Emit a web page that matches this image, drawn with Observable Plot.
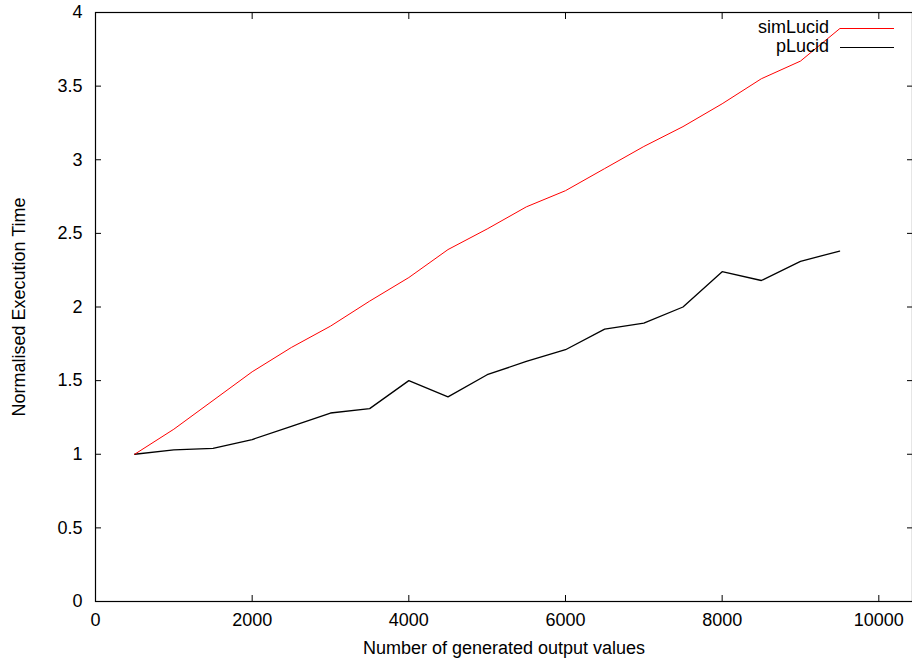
<!DOCTYPE html>
<html>
<head>
<meta charset="utf-8">
<script src="https://cdn.jsdelivr.net/npm/d3@7"></script>
<script src="https://cdn.jsdelivr.net/npm/@observablehq/plot@0.6"></script>
<style>
  html, body { margin: 0; padding: 0; background: #fff; }
  #wrap { position: relative; width: 912px; height: 660px; font-family: "Liberation Sans", Arial, Helvetica, sans-serif; }
  #legend { position: absolute; left: 700px; top: 19px; width: 200px; font-size: 18px; }
  .row { position: relative; height: 19px; }
  .row span.t { position: absolute; right: 71px; top: -1px; line-height: 19px; }
  .row span.l { position: absolute; left: 140px; width: 54px; top: 9px; height: 0; }
</style>
</head>
<body>
<div id="wrap"></div>
<script>
const outputs = [500, 1000, 1500, 2000, 2500, 3000, 3500, 4000, 4500, 5000, 5500, 6000, 6500, 7000, 7500, 8000, 8500, 9000, 9500];
const simLucid = [1.0, 1.17, 1.365, 1.56, 1.725, 1.87, 2.04, 2.20, 2.39, 2.53, 2.68, 2.79, 2.94, 3.09, 3.225, 3.38, 3.55, 3.67, 3.89];
const pLucid = [1.0, 1.03, 1.04, 1.10, 1.19, 1.28, 1.31, 1.50, 1.39, 1.54, 1.63, 1.71, 1.85, 1.89, 2.00, 2.24, 2.18, 2.31, 2.38];
const seriesNames = ["simLucid", "pLucid"];
const seriesColors = ["#ff0000", "#000000"];
const xTicks = [0, 2000, 4000, 6000, 8000, 10000];
const yTicks = [0, 0.5, 1, 1.5, 2, 2.5, 3, 3.5, 4];

const rows = [];
outputs.forEach((x, i) => {
  rows.push({series: "simLucid", x, y: simLucid[i]});
  rows.push({series: "pLucid", x, y: pLucid[i]});
});

const font = '"Liberation Sans", Arial, Helvetica, sans-serif';
const chart = Plot.plot({
  width: 912,
  height: 660,
  marginLeft: 95,
  marginRight: 0,
  marginTop: 12,
  marginBottom: 59,
  style: {fontFamily: font, fontSize: "18px", background: "#fff", color: "#000"},
  x: {domain: [0, 10430]},
  y: {domain: [0, 4]},
  color: {domain: seriesNames, range: seriesColors},
  marks: [
    Plot.frame({stroke: "#000", strokeWidth: 1.2}),
    Plot.axisX({ticks: xTicks, tickSize: 0, tickPadding: 12, tickFormat: d => String(d), label: "Number of generated output values", labelAnchor: "center", labelArrow: "none", labelOffset: 52, fontSize: 18}),
    Plot.axisX({ticks: xTicks, tickSize: -6, tickFormat: () => "", label: null}),
    Plot.axisX({ticks: xTicks, anchor: "top", tickSize: -6, tickFormat: () => "", label: null}),
    Plot.axisY({ticks: yTicks, tickSize: 0, tickPadding: 13, tickFormat: d => String(d), label: "Normalised Execution Time", labelAnchor: "center", labelArrow: "none", labelOffset: 83, fontSize: 18}),
    Plot.axisY({ticks: yTicks, tickSize: -6, tickFormat: () => "", label: null}),
    Plot.axisY({ticks: yTicks, anchor: "right", tickSize: -6, tickFormat: () => "", label: null}),
    Plot.line(rows.filter(d => d.series === "pLucid"), {x: "x", y: "y", stroke: "series", strokeWidth: 1.3}),
    Plot.line(rows.filter(d => d.series === "simLucid"), {x: "x", y: "y", stroke: "series", strokeWidth: 1})
  ]
});
const wrap = document.getElementById("wrap");
wrap.appendChild(chart);
const legend = document.createElement("div");
legend.id = "legend";
seriesNames.forEach((name, i) => {
  const row = document.createElement("div");
  row.className = "row";
  const t = document.createElement("span");
  t.className = "t";
  t.textContent = name;
  const l = document.createElement("span");
  l.className = "l";
  l.style.borderTop = (i === 0 ? "1px" : "1.3px") + " solid " + seriesColors[i];
  row.appendChild(t);
  row.appendChild(l);
  legend.appendChild(row);
});
wrap.appendChild(legend);
</script>
</body>
</html>
